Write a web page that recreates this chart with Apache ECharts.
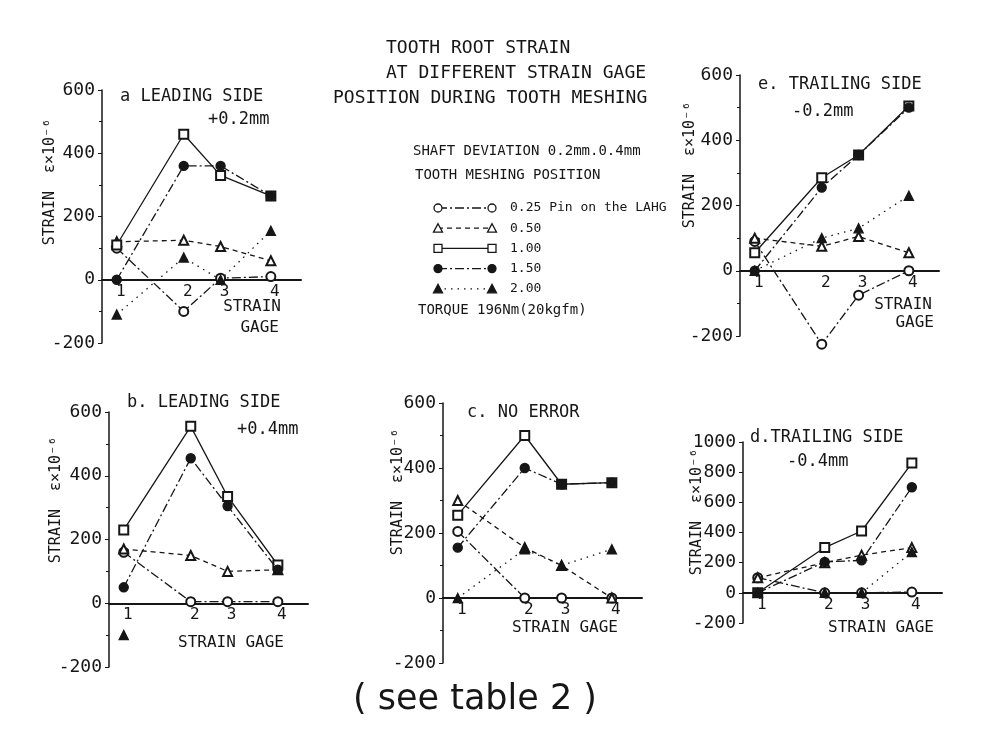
<!DOCTYPE html>
<html>
<head>
<meta charset="utf-8">
<script src="https://cdn.jsdelivr.net/npm/echarts@6/dist/echarts.min.js"></script>
<style>
  html, body { margin: 0; padding: 0; background: #fff; }
  #chart { width: 986px; height: 753px; }
</style>
</head>
<body>
<div id="chart"></div>
<script>
// strain gage positions along the root (the gages are not evenly spaced)
const gagePos = [1, 2, 2.55, 3.3];
const gageLabels = ['1', '2', '3', '4'];

// tooth meshing position, pin on the LAHG
const meshNames = ['0.25', '0.50', '1.00', '1.50', '2.00'];

// strain (x10^-6), one row per meshing position in the order of meshNames
const leading02 = [
    [100, -100, 5, 10],
    [120, 125, 105, 60],
    [110, 460, 330, 265],
    [0, 360, 360, 265],
    [-110, 70, 0, 155]
];
const trailing02 = [
    [90, -225, -75, 0],
    [100, 75, 105, 55],
    [55, 285, 355, 505],
    [0, 255, 355, 500],
    [0, 100, 130, 230]
];
const leading04 = [
    [160, 5, 5, 5],
    [170, 150, 100, 105],
    [230, 555, 335, 120],
    [50, 455, 305, 105],
    [-100, null, null, null]
];
const noError = [
    [205, 0, 0, 0],
    [300, 155, 100, 0],
    [255, 500, 350, 355],
    [155, 400, 350, 355],
    [0, 150, 100, 150]
];
const trailing04 = [
    [100, 0, 0, 5],
    [100, 200, 250, 300],
    [0, 300, 410, 860],
    [0, 205, 215, 700],
    [0, 0, 0, 270]
];

const ink = '#161616';
const mono = 'DejaVu Sans Mono';

// marker + line pattern per meshing position
const styles = [
    {symbol: 'emptyCircle', dash: [9, 3, 2, 3]},
    {symbol: 'emptyTriangle', dash: [5, 4]},
    {symbol: 'emptyRect', dash: 'solid'},
    {symbol: 'circle', dash: [9, 3, 2, 3]},
    {symbol: 'triangle', dash: [1.5, 5]}
];

// panel layout
const panels = [
    {data: leading02, grid: {left: 102, top: 90, width: 199, height: 253}, yMax: 600,
     title: 'a LEADING SIDE', tx: 120, ty: 97, sub: '+0.2mm', sx: 208, sy: 120,
     nameX: 50, nameY: 182, gage: [['STRAIN', 281, 307], ['GAGE', 279, 328]]},
    {data: leading04, grid: {left: 109, top: 412, width: 199, height: 255}, yMax: 600,
     title: 'b. LEADING SIDE', tx: 127, ty: 403, sub: '+0.4mm', sx: 237, sy: 430,
     nameX: 56, nameY: 500, gage: [['STRAIN GAGE', 284, 643]]},
    {data: noError, grid: {left: 443, top: 403, width: 199, height: 260}, yMax: 600,
     title: 'c. NO ERROR', tx: 467, ty: 413, sub: '', sx: 0, sy: 0,
     nameX: 398, nameY: 492, gage: [['STRAIN GAGE', 618, 628]]},
    {data: trailing04, grid: {left: 743, top: 442, width: 199, height: 181}, yMax: 1000,
     title: 'd.TRAILING SIDE', tx: 750, ty: 438, sub: '-0.4mm', sx: 787, sy: 462,
     nameX: 697, nameY: 512, gage: [['STRAIN GAGE', 934, 628]]},
    {data: trailing02, grid: {left: 740, top: 75, width: 199, height: 261}, yMax: 600,
     title: 'e. TRAILING SIDE', tx: 758, ty: 85, sub: '-0.2mm', sx: 792, sy: 112,
     nameX: 690, nameY: 165, gage: [['STRAIN', 932, 305], ['GAGE', 934, 323]]}
];

function text(x, y, s, size, align, extra, family) {
    return Object.assign({
        type: 'text', x: x, y: y, silent: true,
        style: {text: s, fontSize: size, fontFamily: family || mono, fill: ink,
                align: align || 'left', verticalAlign: 'middle'}
    }, extra || {});
}

const grids = [], xAxes = [], yAxes = [], series = [], graphics = [];

panels.forEach((p, i) => {
    grids.push(p.grid);
    // strain gage axis sits on the zero line
    const zeroOffset = p.grid.height * 200 / (p.yMax + 200);
    xAxes.push({
        type: 'value', gridIndex: i, min: 0.78, max: 3.75,
        position: 'bottom', offset: -zeroOffset,
        axisLine: {onZero: false, lineStyle: {color: ink, width: 2}},
        axisTick: {show: false},
        splitLine: {show: false},
        axisLabel: {
            customValues: gagePos,
            formatter: v => gageLabels[gagePos.indexOf(v)] || '',
            color: ink, fontSize: 16, fontFamily: mono, margin: 4, padding: [0, 0, 0, 8]
        }
    });
    yAxes.push({
        type: 'value', gridIndex: i, min: -200, max: p.yMax, interval: 200,
        axisLine: {show: true, onZero: false, lineStyle: {color: ink, width: 1.5}},
        axisTick: {show: true, length: 4, lineStyle: {color: ink}},
        minorTick: {show: p.yMax === 600, splitNumber: 2, length: 3, lineStyle: {color: ink}},
        splitLine: {show: false},
        axisLabel: {color: ink, fontSize: 18, fontFamily: mono, margin: 7,
                    formatter: v => String(v)}
    });

    p.data.forEach((row, j) => {
        const pts = [];
        row.forEach((v, k) => { if (v !== null) pts.push([gagePos[k], v]); });
        series.push({
            name: meshNames[j], type: 'line', xAxisIndex: i, yAxisIndex: i,
            data: pts, symbol: styles[j].symbol, symbolSize: 9, showAllSymbol: true,
            clip: false,
            lineStyle: {color: ink, width: 1.3, type: styles[j].dash},
            itemStyle: {color: ink, borderColor: ink, borderWidth: 1.4},
            animation: false, z: 3 + j
        });
    });

    graphics.push(text(p.tx, p.ty, p.title, 17));
    if (p.sub) graphics.push(text(p.sx, p.sy, p.sub, 17));
    graphics.push(text(p.nameX, p.nameY, 'STRAIN  ε×10⁻⁶', 15, 'center', {rotation: Math.PI / 2}));
    p.gage.forEach(g => graphics.push(text(g[1], g[2], g[0], 16, 'right')));
});

// figure title
graphics.push(text(386, 48, 'TOOTH ROOT STRAIN', 18));
graphics.push(text(386, 73, 'AT DIFFERENT STRAIN GAGE', 18));
graphics.push(text(333, 98, 'POSITION DURING TOOTH MESHING', 18));

// legend block
graphics.push(text(413, 151, 'SHAFT DEVIATION 0.2mm.0.4mm', 14));
graphics.push(text(415, 175, 'TOOTH MESHING POSITION', 14));
graphics.push(text(418, 310, 'TORQUE 196Nm(20kgfm)', 14));

function legendMark(sym, cx, cy) {
    const filled = sym.indexOf('empty') !== 0;
    const st = {fill: filled ? ink : '#fff', stroke: ink, lineWidth: 1.3};
    if (/circle/i.test(sym)) return {type: 'circle', shape: {cx: cx, cy: cy, r: 4}, style: st, z: 10};
    if (/rect/i.test(sym)) return {type: 'rect', shape: {x: cx - 4, y: cy - 4, width: 8, height: 8}, style: st, z: 10};
    return {type: 'polygon', shape: {points: [[cx, cy - 4.5], [cx + 4.5, cy + 4], [cx - 4.5, cy + 4]]}, style: st, z: 10};
}

meshNames.forEach((n, j) => {
    const y = 208 + j * 20.2;
    const x0 = 438, x1 = 492;
    const dash = styles[j].dash === 'solid' ? null : styles[j].dash;
    graphics.push({type: 'line', shape: {x1: x0, y1: y, x2: x1, y2: y},
                   style: {stroke: ink, lineWidth: 1.3, lineDash: dash}, z: 9});
    graphics.push(legendMark(styles[j].symbol, x0, y));
    graphics.push(legendMark(styles[j].symbol, x1, y));
    graphics.push(text(510, y, j === 0 ? n + ' Pin on the LAHG' : n, 13));
});

// footnote
graphics.push(text(475, 700, '( see table 2 )', 35, 'center', null, 'DejaVu Sans'));

const chart = echarts.init(document.getElementById('chart'));
chart.setOption({
    backgroundColor: '#fff',
    animation: false,
    grid: grids,
    xAxis: xAxes,
    yAxis: yAxes,
    series: series,
    graphic: graphics
});
</script>
</body>
</html>
